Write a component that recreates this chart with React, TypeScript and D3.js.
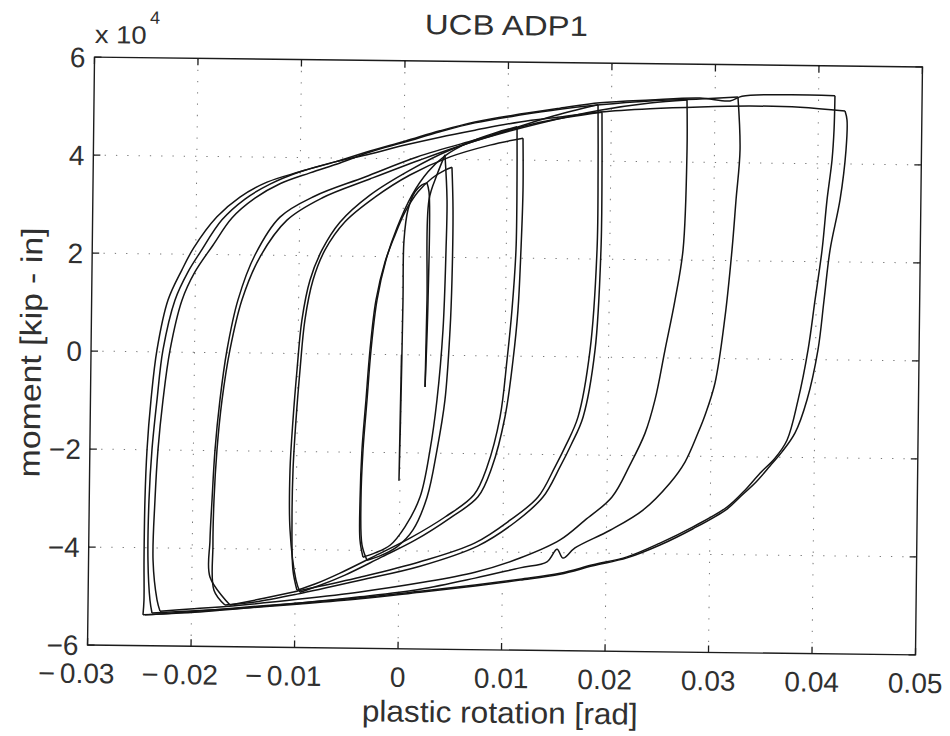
import React from 'react';
import * as d3 from 'd3';

type P = [number, number];

// plastic rotation [rad], moment [kip-in]
const elasticUp: P[] = [[0, 0], [-0.0001, -25600], [0.0, -9200], [0.00008, 11200], [0.00011, 23400], [0.00046, 29600], [0.00112, 33300], [0.00178, 34700], [0.00226, 35100]];
const elasticDown: P[] = [[0.00226, 35100], [0.00247, 33300], [0.0025, 11200], [0.00231, -6500]];
const elasticUp2: P[] = [[0.00231, -6500], [0.0024, 11200], [0.00248, 31700], [0.00322, 36800], [0.00397, 40900]];

const b1Unload: P[] = [[0.00397, 40900], [0.00422, 31700], [0.00418, 21500], [0.00398, 5200], [0.00348, -9100], [0.00286, -19400], [0.00195, -29000], [0.00053, -35100], [-0.00089, -38900], [-0.00233, -40500], [-0.00349, -41400]];
const b2Load: P[] = [[-0.00349, -41400], [-0.0038, -37900], [-0.00384, -29700], [-0.00371, -19500], [-0.00338, -9300], [-0.00305, 900], [-0.00253, 11100], [-0.0017, 18900], [-0.00077, 24400], [0.00017, 29100], [0.00141, 33300], [0.00274, 36100], [0.00399, 37800], [0.00466, 38400]];
const b2Unload: P[] = [[0.00466, 38400], [0.00481, 29700], [0.00479, 15400], [0.00466, 5200], [0.00425, -9100], [0.00354, -19300], [0.00263, -29000], [0.00131, -35700], [-0.00022, -39200], [-0.00185, -41100], [-0.0031, -42000]];

const c1Load: P[] = [[-0.0031, -42000], [-0.0036, -38900], [-0.00375, -29700], [-0.00361, -19500], [-0.00328, -9300], [-0.00295, 900], [-0.00243, 11100], [-0.00161, 19300], [-0.00058, 25900], [0.00083, 32600], [0.00235, 37400], [0.00397, 40700], [0.00637, 43600], [0.00878, 45500], [0.0109, 46800]];
const c1Unload: P[] = [[0.0109, 46800], [0.01096, 35900], [0.01094, 21700], [0.01062, 9400], [0.0102, -800], [0.00959, -12500], [0.00839, -22700], [0.00716, -28400], [0.00439, -33000], [0.00103, -37400], [-0.00233, -41100], [-0.00569, -44700], [-0.0081, -47000], [-0.00983, -48300]];
const c2Load: P[] = [[-0.00983, -48300], [-0.01024, -44200], [-0.01039, -34000], [-0.01035, -23800], [-0.01012, -13600], [-0.00979, -3400], [-0.00937, 6900], [-0.00864, 15000], [-0.00751, 21200], [-0.00561, 27000], [-0.00274, 32100], [0.00061, 36700], [0.00446, 40500], [0.00831, 43000], [0.01149, 44500]];
const c2Unload: P[] = [[0.01149, 44500], [0.01155, 33900], [0.01142, 21700], [0.0112, 9400], [0.01078, -800], [0.01007, -12400], [0.00887, -22700], [0.00755, -28800], [0.00487, -33200], [0.00152, -37800], [-0.00185, -41500], [-0.00521, -45100], [-0.0078, -47400], [-0.00954, -48700]];

const d1Load: P[] = [[-0.00954, -48700], [-0.00994, -46200], [-0.01057, -36000], [-0.01064, -23800], [-0.01041, -13600], [-0.01008, -3400], [-0.00966, 6900], [-0.00893, 15000], [-0.0078, 21200], [-0.0061, 26900], [-0.00323, 32500], [0.00061, 37700], [0.00445, 41900], [0.00926, 45500], [0.01407, 48900], [0.0187, 51500]];
const d1Unload: P[] = [[0.0187, 51500], [0.01878, 38200], [0.01877, 21900], [0.01821, 1400], [0.01712, -12300], [0.016, -18000], [0.01496, -22500], [0.01335, -28700], [0.01067, -33500], [0.00732, -38200], [0.00202, -42200], [-0.00376, -45500], [-0.00983, -48500], [-0.01339, -50200], [-0.01628, -51500]];
const d2Load: P[] = [[-0.01628, -51500], [-0.01825, -45800], [-0.01829, -38300], [-0.01814, -30100], [-0.01791, -19900], [-0.01749, -9700], [-0.01687, 500], [-0.01586, 10800], [-0.01427, 20000], [-0.0119, 27800], [-0.00854, 32200], [-0.00373, 36200], [0.00127, 40400], [0.00685, 44000], [0.01311, 47800], [0.01909, 50000]];
const d2Unload: P[] = [[0.01909, 50000], [0.01916, 38200], [0.01915, 21900], [0.01869, 1400], [0.01761, -12300], [0.01648, -18000], [0.01544, -22500], [0.01383, -28700], [0.01116, -33900], [0.00761, -38800], [0.00203, -43100], [-0.00375, -46100], [-0.00982, -49100], [-0.01387, -50800], [-0.01677, -51500]];

const eLoad: P[] = [[-0.01677, -51500], [-0.01785, -48500], [-0.018, -39300], [-0.01795, -30100], [-0.01772, -19900], [-0.01729, -9700], [-0.01658, 600], [-0.01548, 10800], [-0.01379, 19600], [-0.01122, 27200], [-0.00786, 31800], [-0.00325, 35800], [0.00156, 39800], [0.00685, 43800], [0.01311, 47600], [0.0189, 50400], [0.02372, 52000], [0.02729, 52700]];
const eUnload: P[] = [[0.02729, 52700], [0.02735, 42500], [0.02708, 22100], [0.02636, 11800], [0.02545, 1600], [0.02454, -8600], [0.02362, -15400], [0.0222, -21900], [0.0205, -28500], [0.01792, -33300], [0.01553, -37400], [0.01168, -41200], [0.00735, -44200], [0.00205, -46500], [-0.00374, -48500], [-0.00953, -50100], [-0.01532, -51500], [-0.02014, -52400], [-0.02304, -52900]];

const fLoad: P[] = [[-0.02304, -52900], [-0.02334, -50600], [-0.02377, -42500], [-0.02365, -30200], [-0.02342, -20000], [-0.02299, -9800], [-0.02237, 400], [-0.02127, 10600], [-0.02005, 16400], [-0.01834, 21900], [-0.01654, 27500], [-0.01434, 31600], [-0.01194, 34600], [-0.00905, 36900], [-0.00616, 39000], [-0.00328, 41300], [0.00009, 43400], [0.00346, 45600], [0.00683, 47500], [0.01117, 49200], [0.01503, 50500], [0.01889, 51500], [0.02372, 52400], [0.02854, 52900], [0.03221, 53400]];
const fUnload: P[] = [[0.03221, 53400], [0.03247, 42600], [0.03214, 32400], [0.03181, 22200], [0.03121, 8500], [0.03032, -5000], [0.02939, -11600], [0.02874, -15200], [0.02751, -21200], [0.02609, -25500], [0.02351, -31100], [0.02035, -35300], [0.01698, -39000], [0.01584, -41100], [0.01525, -39300], [0.01429, -41900], [0.01169, -43200], [0.00736, -45400], [0.00206, -47800], [-0.00373, -49500], [-0.00952, -50900], [-0.01531, -52100], [-0.02014, -52800], [-0.02381, -53300]];

const g1Load: P[] = [[-0.02381, -53300], [-0.02402, -50700], [-0.02426, -42500], [-0.02423, -30300], [-0.024, -20000], [-0.02357, -9800], [-0.02305, 400], [-0.02195, 10600], [-0.02072, 16400], [-0.0196, 20300], [-0.0175, 27100], [-0.0153, 31400], [-0.0129, 34500], [-0.01002, 37100], [-0.00665, 39200], [-0.00328, 41500], [0.00009, 43600], [0.00346, 45800], [0.00683, 47700], [0.01117, 49400], [0.01503, 50700], [0.01889, 51900], [0.02372, 52600], [0.02854, 53100], [0.03145, 52600], [0.0326, 53600], [0.03724, 54000], [0.04158, 53900]];
const g1Unload: P[] = [[0.04158, 53900], [0.04153, 46900], [0.04137, 40800], [0.04093, 32600], [0.04051, 22400], [0.03989, 12200], [0.03927, 2000], [0.03836, -8300], [0.03734, -16500], [0.0362, -20200], [0.03477, -23300], [0.03334, -26800], [0.03162, -30300], [0.02836, -34400], [0.02519, -37800], [0.02202, -40700], [0.01874, -42400], [0.01556, -44200], [0.01171, -45500], [0.00737, -46800], [0.00206, -48200], [-0.00373, -49700], [-0.00952, -50900], [-0.01435, -51800], [-0.01918, -52800], [-0.02304, -53500], [-0.02468, -53700]];
const g2Load: P[] = [[-0.02468, -53700], [-0.0246, -50700], [-0.02464, -42500], [-0.02462, -30300], [-0.02448, -20100], [-0.02415, -9800], [-0.02363, 400], [-0.02262, 10600], [-0.02131, 16800], [-0.0202, 21300], [-0.01799, 27700], [-0.01579, 31800], [-0.01319, 34900], [-0.01002, 37100], [-0.00665, 39200], [-0.00328, 40900], [0.0001, 42800], [0.00347, 44500], [0.00684, 46000], [0.01118, 47800], [0.01504, 48900], [0.0189, 50000], [0.02373, 50800], [0.02855, 51300], [0.03338, 51600], [0.03822, 51500], [0.04257, 50800]];
const g2Unload: P[] = [[0.04257, 50800], [0.04277, 49000], [0.04271, 42900], [0.04219, 32700], [0.04128, 22400], [0.04076, 12200], [0.04023, 2000], [0.03923, -8200], [0.03811, -15000], [0.03687, -18900], [0.03573, -21800], [0.0344, -25100], [0.03287, -28200], [0.03162, -30700], [0.02836, -34800], [0.02519, -38200], [0.02202, -40900], [0.01874, -42600], [0.01556, -44400], [0.01171, -45700], [0.00737, -47000], [0.00206, -48400], [-0.00373, -49900], [-0.00952, -51100], [-0.01435, -52000], [-0.01918, -53000], [-0.02304, -53500], [-0.02449, -53700]];

const segments: P[][] = [
  elasticUp, elasticDown, elasticUp2,
  b1Unload, b2Load, b2Unload,
  c1Load, c1Unload, c2Load, c2Unload,
  d1Load, d1Unload, d2Load, d2Unload,
  eLoad, eUnload, fLoad, fUnload,
  g1Load, g1Unload, g2Load, g2Unload,
];

const xTicks = [-0.03, -0.02, -0.01, 0, 0.01, 0.02, 0.03, 0.04, 0.05];
const xTickText = ['0.03', '0.02', '0.01', '0', '0.01', '0.02', '0.03', '0.04', '0.05'];
const yTicks = [-60000, -40000, -20000, 0, 20000, 40000, 60000];
const yTickText = ['\u22126', '\u22124', '\u22122', '0', '2', '4', '6'];

const title = 'UCB  ADP1';
const xLabel = 'plastic rotation [rad]';
const yLabel = 'moment  [kip - in]';

export default function App() {
  const W = 950, H = 736;
  const L = 91, R = 919, T = 62, B = 650;
  const x = d3.scaleLinear().domain([-0.03, 0.05]).range([L, R]);
  const y = d3.scaleLinear().domain([-60000, 60000]).range([B, T]);
  const line = d3.line<P>().x(d => x(d[0])).y(d => y(d[1])).curve(d3.curveCatmullRom.alpha(0.5));
  const font = "'Liberation Sans', Arial, Helvetica, sans-serif";
  const ink = '#1c1c1c';
  const txt = '#303030';
  const tl = 7;
  return (
    <svg width={W} height={H} style={{ position: 'absolute', left: 0, top: 0, background: '#fff' }}>
      <rect width={W} height={H} fill="#fff" />
      <g transform="rotate(0.68 505 356)">
        {xTicks.slice(1, -1).map(t => (
          <line key={'gx' + t} x1={x(t)} x2={x(t)} y1={T} y2={B} stroke="#777" strokeWidth={1} strokeDasharray="1.3 10" />
        ))}
        {yTicks.slice(1, -1).map(t => (
          <line key={'gy' + t} x1={L} x2={R} y1={y(t)} y2={y(t)} stroke="#777" strokeWidth={1} strokeDasharray="1.3 10" />
        ))}
        {segments.map((s, i) => (
          <path key={i} d={line(s) || ''} fill="none" stroke="#141414" strokeWidth={1.5} strokeLinejoin="round" />
        ))}
        <rect x={L} y={T} width={R - L} height={B - T} fill="none" stroke={ink} strokeWidth={1.4} />
        {xTicks.map(t => (
          <g key={'tx' + t}>
            <line x1={x(t)} x2={x(t)} y1={B} y2={B - tl} stroke={ink} strokeWidth={1.3} />
            <line x1={x(t)} x2={x(t)} y1={T} y2={T + tl} stroke={ink} strokeWidth={1.3} />
          </g>
        ))}
        {yTicks.map(t => (
          <g key={'ty' + t}>
            <line x1={L} x2={L + tl} y1={y(t)} y2={y(t)} stroke={ink} strokeWidth={1.3} />
            <line x1={R} x2={R - tl} y1={y(t)} y2={y(t)} stroke={ink} strokeWidth={1.3} />
          </g>
        ))}
        {xTicks.map((t, i) => (
          <g key={'xl' + t} fontFamily={font} fontSize={28} fill={txt}>
            <text x={x(t)} y={688} textAnchor="middle">{xTickText[i]}</text>
            {t < 0 && (
              <text x={x(t) - 32} y={688} textAnchor="end" textLength={17} lengthAdjust="spacingAndGlyphs">{'\u2212'}</text>
            )}
          </g>
        ))}
        {yTicks.map((t, i) => (
          <text key={'yl' + t} x={82} y={y(t)} dy="0.36em" textAnchor="end" fontFamily={font} fontSize={28} fill={txt}>{yTickText[i]}</text>
        ))}
        <text x={91} y={48} fontFamily={font} fontSize={25} fill={txt} textLength={52} lengthAdjust="spacingAndGlyphs">x 10</text>
        <text x={146} y={28} fontFamily={font} fontSize={18} fill={txt}>4</text>
        <text x={421} y={35} fontFamily={font} fontSize={28} fill={txt} textLength={163} lengthAdjust="spacingAndGlyphs">{title}</text>
        <text x={366} y={723} fontFamily={font} fontSize={30} fill={txt} textLength={276} lengthAdjust="spacingAndGlyphs">{xLabel}</text>
        <text transform="translate(41,483) rotate(-90)" fontFamily={font} fontSize={30} fill={txt} textLength={250} lengthAdjust="spacingAndGlyphs">{yLabel}</text>
      </g>
    </svg>
  );
}
